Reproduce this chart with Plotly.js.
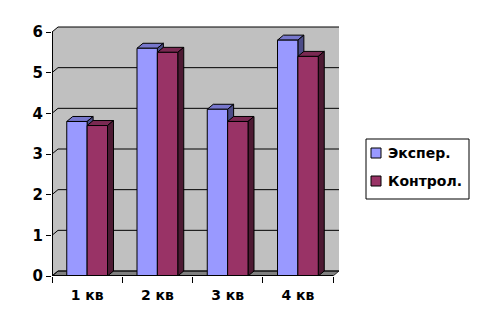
<!DOCTYPE html>
<html><head><meta charset="utf-8">
<script src="https://cdn.plot.ly/plotly-3.0.1.min.js"></script>
<style>html,body{margin:0;padding:0;background:#fff}</style>
</head><body><div id="chart" style="width:477px;height:327px"></div>
<script>
const categories = ['1 кв', '2 кв', '3 кв', '4 кв'];
const seriesNames = ['Экспер.', 'Контрол.'];
const experValues = [3.8, 5.6, 4.1, 5.8];
const controlValues = [3.7, 5.5, 3.8, 5.4];
const yTicks = [0, 1, 2, 3, 4, 5, 6];

const frontColors = ['#9999FF', '#993366'];
const topColors = ['#7777CC', '#7A2952'];
const sideColors = ['#4D4D88', '#4D1A33'];
const wallColor = '#C0C0C0';
const floorColor = '#808080';

const W = 477, H = 327, L = 52, B = 51;
const catPx = 70.25, unitPx = 244 / 6;
const depthX = 6, depthY = 5, padTop = 1;
const nCat = categories.length;
const yMax = yTicks[yTicks.length - 1];
const plotW = catPx * nCat + depthX;
const plotH = unitPx * yMax + depthY + padTop;
const R = W - L - plotW;
const T = H - B - plotH;
const dx = depthX / catPx, dy = depthY / unitPx;
const bargap = 0.42, bw = (1 - bargap) / 2;
const xMin = -0.5, xMax = nCat - 0.5;
const xs = categories.map((c, i) => i);
const boundaries = categories.map((c, i) => i - 0.5).concat([nCat - 0.5]);

// pixel -> paper helpers (for the legend box only)
const px2paperX = p => (p - L) / plotW;
const py2paperY = p => (H - B - p) / plotH;

function poly(pts) {
  return 'M' + pts.map(p => p[0] + ',' + p[1]).join('L') + 'Z';
}
function pathOpen(pts) {
  return 'M' + pts.map(p => p[0] + ',' + p[1]).join('L');
}

const shapes = [];
// walls (left side + back)
shapes.push({type: 'path', xref: 'x', yref: 'y', layer: 'below',
  path: poly([[xMin, 0], [xMin, yMax], [xMin + dx, yMax + dy], [xMax + dx, yMax + dy], [xMax + dx, dy], [xMax, 0]]),
  fillcolor: wallColor, line: {width: 0}});
// floor
shapes.push({type: 'path', xref: 'x', yref: 'y', layer: 'below',
  path: poly([[xMin, 0], [xMax, 0], [xMax + dx, dy], [xMin + dx, dy]]),
  fillcolor: floorColor, line: {color: '#333', width: 1}});
// gridlines on side + back wall
yTicks.forEach(v => {
  shapes.push({type: 'path', xref: 'x', yref: 'y', layer: 'below',
    path: pathOpen([[xMin, v], [xMin + dx, v + dy], [xMax + dx, v + dy]]),
    line: {color: '#000', width: 1}});
});
// 3D faces of bars
const seriesVals = [experValues, controlValues];
xs.forEach(i => {
  seriesVals.forEach((vals, s) => {
    const v = vals[i];
    const xl = i - bw + s * bw, xr = xl + bw;
    shapes.push({type: 'path', xref: 'x', yref: 'y', layer: 'below',
      path: poly([[xl, v], [xr, v], [xr + dx, v + dy], [xl + dx, v + dy]]),
      fillcolor: topColors[s], line: {color: '#000', width: 1}});
    shapes.push({type: 'path', xref: 'x', yref: 'y', layer: 'below',
      path: poly([[xr, 0], [xr, v], [xr + dx, v + dy], [xr + dx, dy]]),
      fillcolor: sideColors[s], line: {color: '#000', width: 1}});
  });
});
// front axis lines
shapes.push({type: 'line', xref: 'x', yref: 'y', layer: 'above', x0: xMin, x1: xMin, y0: 0, y1: yMax, line: {color: '#000', width: 2}});
shapes.push({type: 'line', xref: 'x', yref: 'y', layer: 'above', x0: xMin, x1: xMax, y0: 0, y1: 0, line: {color: '#000', width: 2}});

const font = {family: 'DejaVu Sans', size: 14, color: '#000', weight: 'bold'};

// custom legend (box, swatches, labels)
const legBox = {x0: 366, x1: 469, y0: 139, y1: 199};
const legRowY = [153, 181];
const swatchX = 371, swatchSize = 10, legTextX = 386;
const annotations = [];
shapes.push({type: 'rect', xref: 'paper', yref: 'paper', layer: 'above',
  x0: px2paperX(legBox.x0), x1: px2paperX(legBox.x1), y0: py2paperY(legBox.y1), y1: py2paperY(legBox.y0),
  fillcolor: '#fff', line: {color: '#000', width: 1}});
seriesNames.forEach((name, s) => {
  const cy = legRowY[s];
  shapes.push({type: 'rect', xref: 'paper', yref: 'paper', layer: 'above',
    x0: px2paperX(swatchX), x1: px2paperX(swatchX + swatchSize),
    y0: py2paperY(cy + swatchSize / 2), y1: py2paperY(cy - swatchSize / 2),
    fillcolor: frontColors[s], line: {color: '#000', width: 1}});
  annotations.push({xref: 'paper', yref: 'paper', x: px2paperX(legTextX), y: py2paperY(cy),
    xanchor: 'left', yanchor: 'middle', showarrow: false, text: name, font: font});
});

const traces = seriesVals.map((vals, s) => ({
  type: 'bar', x: xs, y: vals, name: seriesNames[s],
  marker: {color: frontColors[s], line: {color: '#000', width: 1}},
  hoverinfo: 'skip'
}));

const layout = {
  width: W, height: H,
  margin: {l: L, r: R, t: T, b: B, pad: 0},
  paper_bgcolor: '#fff', plot_bgcolor: 'rgba(0,0,0,0)',
  barmode: 'group', bargap: bargap, bargroupgap: 0,
  font: font,
  showlegend: false,
  xaxis: {range: [xMin, xMax + dx], tickmode: 'array', tickvals: xs, ticktext: categories,
    ticks: '', showgrid: false, zeroline: false, showline: false, fixedrange: true,
    ticklabelstandoff: 9, tickfont: font,
    minor: {tickmode: 'array', tickvals: boundaries, ticks: 'outside', ticklen: 6, tickwidth: 1, tickcolor: '#000', showgrid: false}},
  yaxis: {range: [0, yMax + dy + padTop / unitPx], tickmode: 'array', tickvals: yTicks,
    ticks: 'outside', ticklen: 5, tickwidth: 1, tickcolor: '#000',
    showgrid: false, zeroline: false, showline: false, fixedrange: true, tickfont: Object.assign({}, font, {size: 15})},
  shapes: shapes,
  annotations: annotations
};

Plotly.newPlot('chart', traces, layout, {staticPlot: true, displayModeBar: false});
</script></body></html>
